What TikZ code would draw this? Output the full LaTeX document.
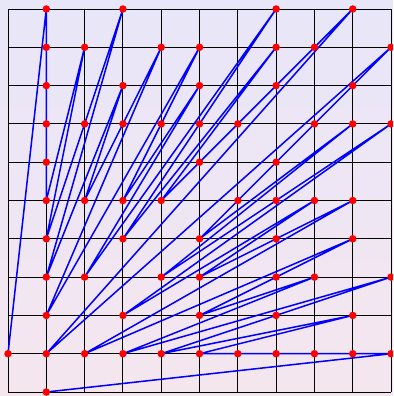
\documentclass[tikz,border=0pt]{standalone}
\definecolor{topc}{RGB}{232,230,249}
\definecolor{botc}{RGB}{245,230,238}
\tikzset{
  bgfill/.style={top color=topc, bottom color=botc, draw=none},
  gridline/.style={black, line width=0.9pt},
  farey/.style={blue, line width=1.5pt, line join=round},
  dot/.style={circle, fill=red, draw=none, inner sep=0pt, minimum size=7.5pt},
}
\begin{document}
\begin{tikzpicture}[x=38.3pt, y=38.3pt]
  \clip (-0.209,-0.104) rectangle (10.052,10.235);
  \fill[bgfill] (-0.209,-0.104) rectangle (10.052,10.235);
  \foreach \k in {0,...,10} {
    \draw[gridline] (\k,0) -- (\k,10);
    \draw[gridline] (0,\k) -- (10,\k);
  }
  \foreach \a/\b in {0/1,1/10,1/9,1/8,1/7,1/6,1/5,2/9,1/4,2/7,3/10,1/3,3/8,2/5,3/7,4/9,1/2,5/9,4/7,3/5,5/8,2/3,7/10,5/7,3/4,7/9,4/5,5/6,6/7,7/8,8/9,9/10,1/1,10/9,9/8,8/7,7/6,6/5,5/4,9/7,4/3,7/5,10/7,3/2,8/5,5/3,7/4,9/5,2/1,9/4,7/3,5/2,8/3,3/1,10/3,7/2,4/1,9/2,5/1,6/1,7/1,8/1,9/1,10/1,1/0}
    \coordinate (c\a-\b) at (\a,\b);
  \draw[farey] (c0-1)
    \foreach \a/\b in {1/10,1/9,1/8,1/7,1/6,1/5,2/9,1/4,2/7,3/10,1/3,3/8,2/5,3/7,4/9,1/2,5/9,4/7,3/5,5/8,2/3,7/10,5/7,3/4,7/9,4/5,5/6,6/7,7/8,8/9,9/10,1/1,10/9,9/8,8/7,7/6,6/5,5/4,9/7,4/3,7/5,10/7,3/2,8/5,5/3,7/4,9/5,2/1,9/4,7/3,5/2,8/3,3/1,10/3,7/2,4/1,9/2,5/1,6/1,7/1,8/1,9/1,10/1,1/0} { -- (c\a-\b) };
  \foreach \a/\b in {0/1,1/10,1/9,1/8,1/7,1/6,1/5,2/9,1/4,2/7,3/10,1/3,3/8,2/5,3/7,4/9,1/2,5/9,4/7,3/5,5/8,2/3,7/10,5/7,3/4,7/9,4/5,5/6,6/7,7/8,8/9,9/10,1/1,10/9,9/8,8/7,7/6,6/5,5/4,9/7,4/3,7/5,10/7,3/2,8/5,5/3,7/4,9/5,2/1,9/4,7/3,5/2,8/3,3/1,10/3,7/2,4/1,9/2,5/1,6/1,7/1,8/1,9/1,10/1,1/0}
    \node[dot] (d\a-\b) at (c\a-\b) {};
\end{tikzpicture}
\end{document}
